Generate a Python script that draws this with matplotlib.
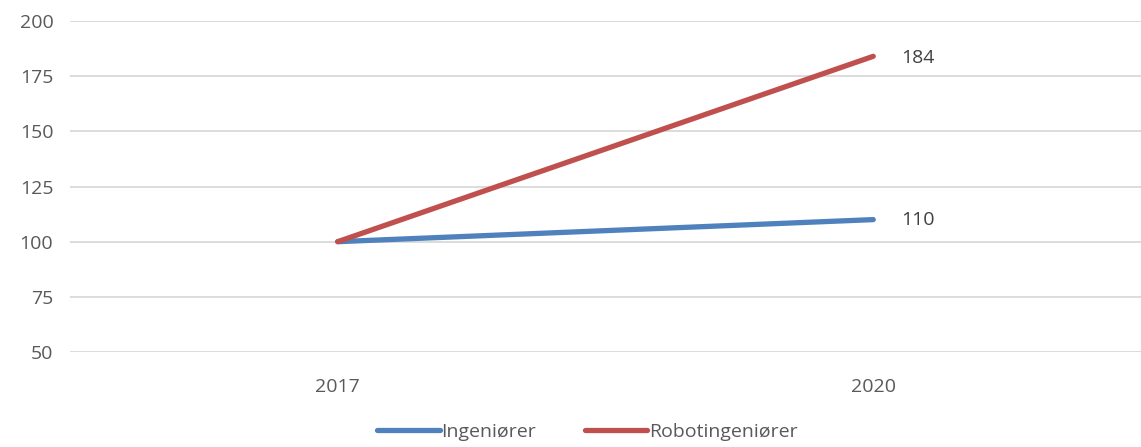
# Indeks: ingeniører vs robotingeniører, 2017 = 100

import matplotlib.pyplot as plt

years = ['2017', '2020']
ingeniorer = [100, 110]
robotingeniorer = [100, 184]
yticks = [50, 75, 100, 125, 150, 175, 200]

plt.rcParams['font.family'] = ['Open Sans', 'DejaVu Sans']
text_col = '#595959'

fig = plt.figure(figsize=(11.41, 4.47), dpi=100)
ax = fig.add_axes([0.0613, 0.2125, 0.9387, 0.7405])

x = range(len(years))
ax.plot(x, ingeniorer, color='#4F81BD', lw=3.8, solid_capstyle='round', label='Ingeniører', zorder=3)
ax.plot(x, robotingeniorer, color='#C0504D', lw=3.8, solid_capstyle='round', label='Robotingeniører', zorder=3)

# verdi-etiketter ved siste punkt
ax.annotate(str(ingeniorer[-1]), (1, ingeniorer[-1]), xytext=(20, 0), textcoords='offset points',
            va='center', ha='left', fontsize=14, color='#404040')
ax.annotate(str(robotingeniorer[-1]), (1, robotingeniorer[-1]), xytext=(20, -1), textcoords='offset points',
            va='center', ha='left', fontsize=14, color='#404040')

ax.set_xlim(-0.5, 1.5)
ax.set_ylim(50, 200)
ax.set_xticks(list(x))
ax.set_xticklabels(years)
ax.set_yticks(yticks)
ax.grid(axis='y', color='#D9D9D9', lw=1.3)
ax.set_axisbelow(True)
for s in ax.spines.values():
    s.set_visible(False)
ax.tick_params(length=0, labelsize=14, colors=text_col)
ax.tick_params(axis='x', pad=19)
ax.tick_params(axis='y', pad=12)

leg = fig.legend(loc='lower center', bbox_to_anchor=(0.515, -0.025), ncol=2, frameon=False,
                 fontsize=14, handlelength=3.2, handletextpad=0.1, columnspacing=2.5)
for t in leg.get_texts():
    t.set_color(text_col)

fig.savefig('out.png', dpi=100)
